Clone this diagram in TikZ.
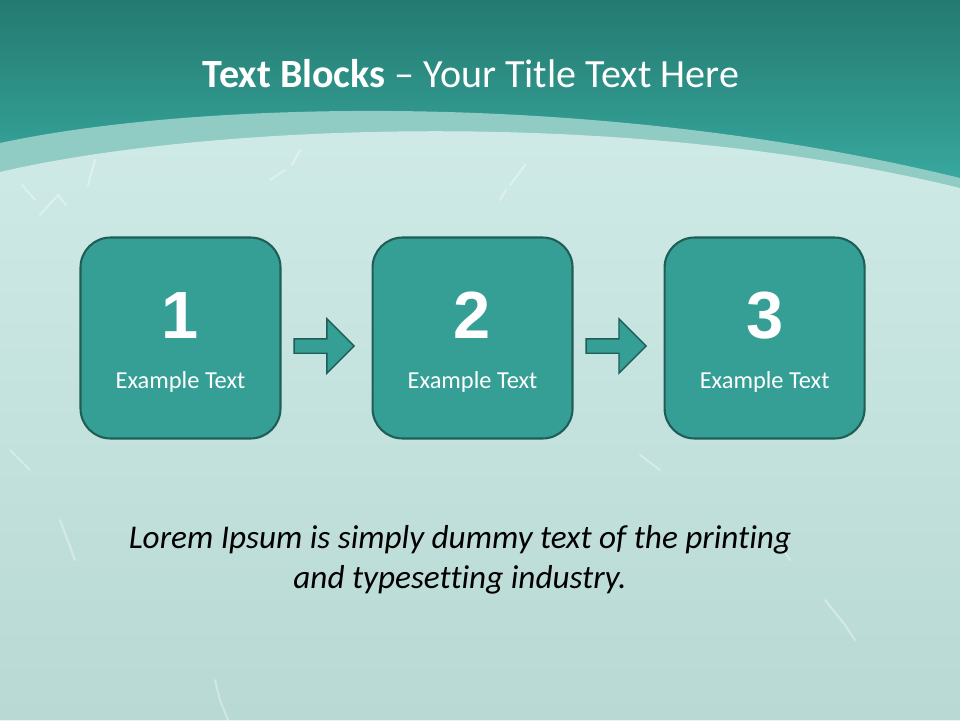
\documentclass[tikz,border=0pt]{standalone}
\usepackage{fontspec}
\setmainfont[Ligatures={NoCommon}]{Carlito}
\newfontfamily\digitfont{Liberation Sans}
\usepackage{xcolor}
\usetikzlibrary{positioning,calc,shapes.arrows}

\definecolor{tealdark}{HTML}{247A70}
\definecolor{tealmid}{HTML}{3AADA3}
\definecolor{bandlight}{HTML}{90CBC4}
\definecolor{bgtop}{HTML}{D0EBE7}
\definecolor{bgbottom}{HTML}{B8D9D4}
\definecolor{boxfill}{HTML}{359F96}
\definecolor{boxline}{HTML}{1F5E57}

\begin{document}
\begin{tikzpicture}[
    x=0.02cm, y=-0.02cm,
    node distance=1.8cm,
    block/.style={
        draw=boxline,
        fill=boxfill,
        line width=1.2pt,
        rounded corners=0.6cm,
        minimum width=4cm,
        minimum height=4.02cm,
        inner sep=0pt
    },
    digit/.style={text=white, inner sep=0pt, font=\digitfont\bfseries\fontsize{38}{40}\selectfont},
    caption/.style={text=white, inner sep=0pt, anchor=base, font=\fontsize{13.9}{16}\selectfont},
    flow/.style={
        single arrow,
        draw=boxline,
        fill=boxfill,
        line width=0.8pt,
        inner sep=0.13cm,
        minimum height=1.2cm,
        single arrow head extend=0.4cm
    },
    heading/.style={text=white, inner sep=0pt, anchor=base, font=\fontsize{22.8}{26}\selectfont},
    body/.style={align=center, inner sep=0pt, font=\itshape\fontsize{18.9}{22.7}\selectfont},
    scratch/.style={white, opacity=0.35, line width=1.2pt, line cap=round}
]
\useasboundingbox (0,0) rectangle (960,720);

% background
\shade[top color=tealdark, bottom color=tealmid] (0,0) rectangle (960,200);
\fill[bandlight] (0,143) .. controls (200,100) and (600,90) .. (960,178)
    -- (960,720) -- (0,720) -- cycle;
\shade[top color=bgtop, bottom color=bgbottom] (0,172) .. controls (200,125) and (620,105) .. (960,188)
    -- (960,720) -- (0,720) -- cycle;
\draw[scratch] (22,185) -- (35,200) (40,215) -- (58,195) -- (66,205) (95,160) -- (88,185);
\draw[scratch] (270,180) -- (285,170) (292,165) -- (300,150) (510,185) -- (525,165) (500,200) -- (506,190);
\draw[scratch] (825,600) -- (845,625) -- (855,640) (780,545) -- (790,560) (640,455) -- (660,470);
\draw[scratch] (215,680) -- (220,700) -- (228,720) (60,520) -- (75,560) (10,450) -- (30,470);

\node[heading] (title) at (471,87) {\textbf{Text Blocks} – Your Title Text Here};

\node[block] (b1) at (180.5,338) {};
\node[block, right=of b1] (b2) {};
\node[block, right=of b2] (b3) {};

\node[digit] (n1) at ([yshift=0.45cm]b1.center) {1};
\node[digit] (n2) at ([yshift=0.45cm]b2.center) {2};
\node[digit] (n3) at ([yshift=0.45cm]b3.center) {3};
\node[caption] (c1) at ([yshift=-1.02cm]b1.center) {Example Text};
\node[caption] (c2) at ([yshift=-1.02cm]b2.center) {Example Text};
\node[caption] (c3) at ([yshift=-1.02cm]b3.center) {Example Text};

\node[flow] (a1) at ($(b1.east)!0.5!(b2.west)+(-6,8)$) {};
\node[flow] (a2) at ($(b2.east)!0.5!(b3.west)+(-6,8)$) {};

\node[body] (note) at (460,560) {Lorem Ipsum is simply dummy text of the printing\\and typesetting industry.};
\end{tikzpicture}
\end{document}
